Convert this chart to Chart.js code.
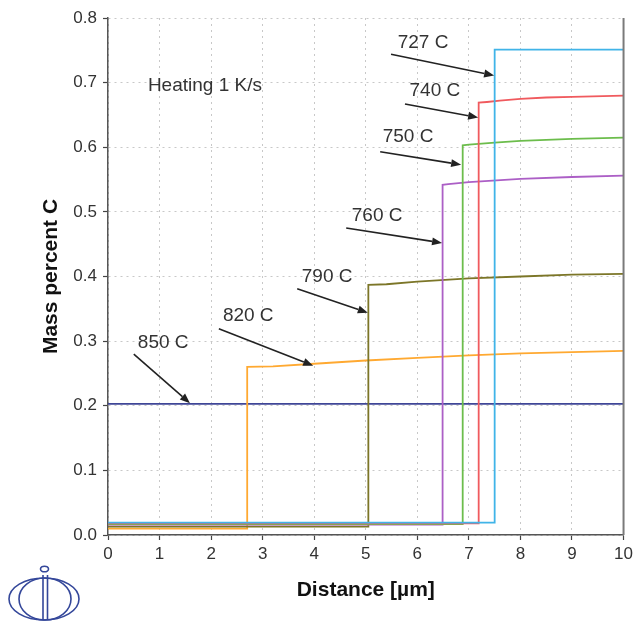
<!DOCTYPE html>
<html>
<head>
<meta charset="utf-8">
<script src="https://cdn.jsdelivr.net/npm/chart.js@4/dist/chart.umd.min.js"></script>
<style>
  html, body { margin: 0; padding: 0; background: #ffffff; }
  canvas { display: block; }
</style>
</head>
<body>
<canvas id="c" width="637" height="622"></canvas>
<script>
// ---- Data ----
const xTicks = [0, 1, 2, 3, 4, 5, 6, 7, 8, 9, 10];
const yTicks = [0.0, 0.1, 0.2, 0.3, 0.4, 0.5, 0.6, 0.7, 0.8];

const seriesNames = ["727 C", "740 C", "750 C", "760 C", "790 C", "820 C", "850 C"];

const x727 = [0, 7.50, 7.50, 10];
const y727 = [0.019, 0.019, 0.751, 0.751];

const x740 = [0, 7.19, 7.19, 7.35, 7.6, 8.0, 8.5, 9.0, 10];
const y740 = [0.018, 0.018, 0.669, 0.670, 0.672, 0.675, 0.677, 0.678, 0.680];

const x750 = [0, 6.88, 6.88, 7.0, 7.5, 8.0, 9.0, 10];
const y750 = [0.017, 0.017, 0.603, 0.604, 0.607, 0.610, 0.613, 0.615];

const x760 = [0, 6.49, 6.49, 6.6, 7.0, 8.0, 9.0, 10];
const y760 = [0.016, 0.016, 0.542, 0.543, 0.546, 0.551, 0.554, 0.556];

const x790 = [0, 5.05, 5.05, 5.4, 6.0, 7.0, 8.0, 9.0, 10];
const y790 = [0.013, 0.013, 0.387, 0.388, 0.392, 0.397, 0.400, 0.403, 0.404];

const x820 = [0, 2.70, 2.70, 3.2, 4.0, 5.0, 6.0, 7.0, 8.0, 9.0, 10];
const y820 = [0.010, 0.010, 0.260, 0.261, 0.265, 0.270, 0.274, 0.278, 0.281, 0.283, 0.285];

const x850 = [0, 10];
const y850 = [0.203, 0.203];

// annotation labels and arrows, in data units
const noteText   = ["727 C", "740 C", "750 C", "760 C", "790 C", "820 C", "850 C"];
const noteTextX  = [6.11, 6.34, 5.82, 5.22, 4.25, 2.72, 1.07];
const noteTextY  = [0.762, 0.687, 0.616, 0.494, 0.399, 0.339, 0.298];
const arrowFromX = [5.49, 5.76, 5.28, 4.62, 3.67, 2.15, 0.50];
const arrowFromY = [0.744, 0.667, 0.593, 0.475, 0.381, 0.319, 0.280];
const arrowToX   = [7.49, 7.18, 6.85, 6.48, 5.04, 3.98, 1.59];
const arrowToY   = [0.711, 0.646, 0.573, 0.452, 0.344, 0.262, 0.204];

const heatingText = "Heating 1 K/s";
const heatingX = 1.88, heatingY = 0.695;

// ---- build datasets ----
function pts(xs, ys) { return xs.map((x, i) => ({ x: x, y: ys[i] })); }
const colors = {
  "727 C": "#40b4e8",
  "740 C": "#f05a5e",
  "750 C": "#6cbd4c",
  "760 C": "#ac5fc6",
  "790 C": "#7c7628",
  "820 C": "#ffa931",
  "850 C": "#3f4697"
};
const seriesData = [
  pts(x727, y727), pts(x740, y740), pts(x750, y750), pts(x760, y760),
  pts(x790, y790), pts(x820, y820), pts(x850, y850)
];
const datasets = seriesNames.map((n, i) => ({
  label: n,
  data: seriesData[i],
  borderColor: colors[n],
  backgroundColor: colors[n],
  borderWidth: 1.8,
  pointRadius: 0,
  tension: 0,
  fill: false
}));

const FONT = "'Liberation Sans', Arial, sans-serif";

const decorPlugin = {
  id: 'decor',
  afterDatasetsDraw(chart) {
    const ctx = chart.ctx;
    const xs = chart.scales.x, ys = chart.scales.y;
    const area = chart.chartArea;
    ctx.save();
    // right border
    ctx.strokeStyle = '#7a7a7a';
    ctx.lineWidth = 2;
    ctx.beginPath();
    ctx.moveTo(area.right, area.top);
    ctx.lineTo(area.right, area.bottom);
    ctx.stroke();

    // annotation texts
    ctx.fillStyle = '#333333';
    ctx.font = '19px ' + FONT;
    ctx.textAlign = 'center';
    ctx.textBaseline = 'middle';
    for (let i = 0; i < noteText.length; i++) {
      ctx.fillText(noteText[i], xs.getPixelForValue(noteTextX[i]), ys.getPixelForValue(noteTextY[i]));
    }
    ctx.fillText(heatingText, xs.getPixelForValue(heatingX), ys.getPixelForValue(heatingY));

    // arrows
    ctx.strokeStyle = '#222222';
    ctx.fillStyle = '#222222';
    ctx.lineWidth = 1.6;
    for (let i = 0; i < arrowFromX.length; i++) {
      const x1 = xs.getPixelForValue(arrowFromX[i]), y1 = ys.getPixelForValue(arrowFromY[i]);
      const x2 = xs.getPixelForValue(arrowToX[i]), y2 = ys.getPixelForValue(arrowToY[i]);
      const ang = Math.atan2(y2 - y1, x2 - x1);
      const hl = 10, hw = 4;
      const bx = x2 - hl * Math.cos(ang), by = y2 - hl * Math.sin(ang);
      ctx.beginPath();
      ctx.moveTo(x1, y1);
      ctx.lineTo(bx, by);
      ctx.stroke();
      ctx.beginPath();
      ctx.moveTo(x2, y2);
      ctx.lineTo(bx + hw * Math.sin(ang), by - hw * Math.cos(ang));
      ctx.lineTo(bx - hw * Math.sin(ang), by + hw * Math.cos(ang));
      ctx.closePath();
      ctx.fill();
    }

    // logo (bottom-left)
    ctx.strokeStyle = '#34479a';
    ctx.lineWidth = 1.6;
    ctx.beginPath(); ctx.ellipse(44, 599, 35, 21, 0, 0, Math.PI * 2); ctx.stroke();
    ctx.beginPath(); ctx.ellipse(45, 599, 26, 21, 0, 0, Math.PI * 2); ctx.stroke();
    ctx.beginPath();
    ctx.moveTo(43, 575); ctx.lineTo(43, 620);
    ctx.moveTo(47.5, 575); ctx.lineTo(47.5, 620);
    ctx.stroke();
    ctx.beginPath(); ctx.ellipse(44.5, 569, 4, 2.8, 0, 0, Math.PI * 2); ctx.stroke();
    ctx.restore();
  }
};

new Chart(document.getElementById('c'), {
  type: 'line',
  data: { datasets: datasets },
  plugins: [decorPlugin],
  options: {
    responsive: false,
    animation: false,
    layout: { padding: { top: 18, right: 13, left: 0, bottom: 0 } },
    plugins: { legend: { display: false }, tooltip: { enabled: false } },
    elements: { line: { borderJoinStyle: 'miter' } },
    scales: {
      x: {
        type: 'linear',
        min: 0, max: 10,
        afterFit(s) { s.height = 87; },
        afterBuildTicks(s) { s.ticks = xTicks.map(v => ({ value: v })); },
        ticks: { color: '#333333', font: { family: FONT, size: 17 }, padding: 4, maxRotation: 0,
                 callback: v => String(v) },
        grid: { color: '#c8c8c8', lineWidth: 1, tickColor: '#444444', tickLength: 5, tickWidth: 1.2 },
        border: { display: true, color: '#555555', width: 1.5, dash: [2, 4] },
        title: { display: true, text: 'Distance [µm]', color: '#111111',
                 font: { family: FONT, size: 21, weight: 'bold' }, padding: { top: 0, bottom: 19 } }
      },
      y: {
        type: 'linear',
        min: 0, max: 0.8,
        afterFit(s) { s.width = 108; },
        afterBuildTicks(s) { s.ticks = yTicks.map(v => ({ value: v })); },
        ticks: { color: '#333333', font: { family: FONT, size: 17 }, padding: 6,
                 callback: v => Number(v).toFixed(1) },
        grid: { color: '#c8c8c8', lineWidth: 1, tickColor: '#444444', tickLength: 5, tickWidth: 1.2 },
        border: { display: true, color: '#555555', width: 1.5, dash: [2, 4] },
        title: { display: true, text: 'Mass percent C', color: '#111111',
                 font: { family: FONT, size: 21, weight: 'bold' }, padding: { top: 39, bottom: 0 } }
      }
    }
  }
});
</script>
</body>
</html>
